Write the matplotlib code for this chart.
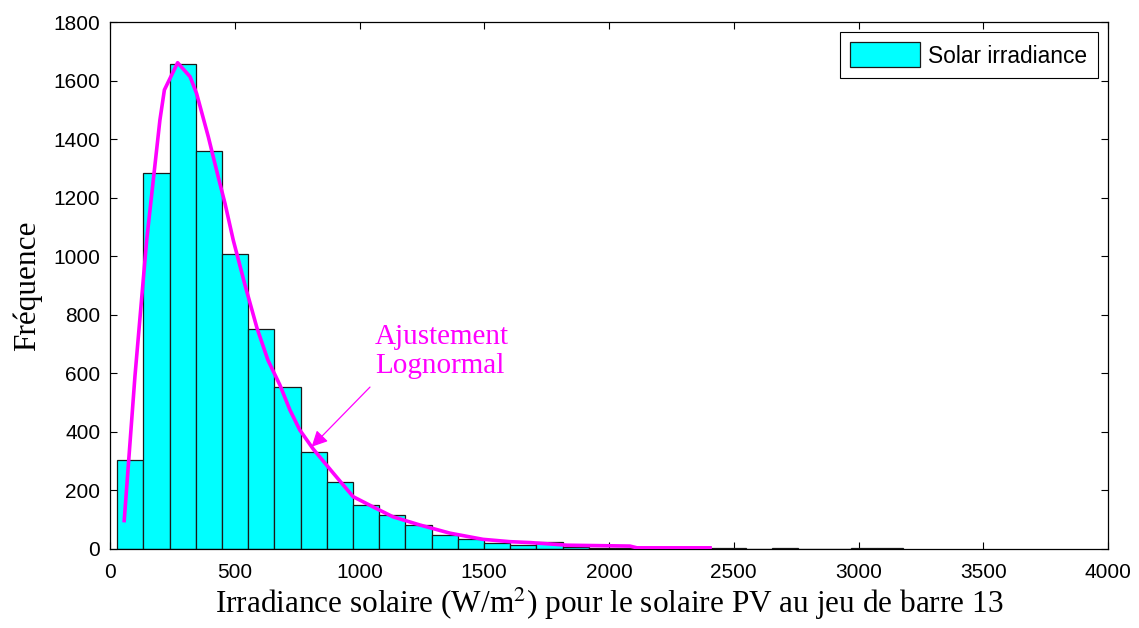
import matplotlib
matplotlib.use('Agg')
import matplotlib.pyplot as plt
import numpy as np

# histogram: 30 bins of width 105 starting at 29 W/m2
bin_start = 29
bin_width = 105
counts = [305, 1285, 1655, 1360, 1008, 752, 553, 333, 230, 150,
          115, 83, 48, 34, 21, 15, 25, 8, 5, 3,
          2, 2, 2, 2, 0, 2, 0, 0, 2, 2]

# lognormal fit curve
fit_x = [57, 100, 147, 200, 218, 271, 321, 347, 394, 434, 461, 494, 541, 589,
         633, 681, 721, 761, 814, 894, 974, 1054, 1134, 1242, 1363, 1495, 1603,
         1683, 1832, 2084, 2112, 2405]
fit_y = [97, 590, 1055, 1465, 1568, 1661, 1613, 1556, 1408, 1270, 1180, 1055,
         902, 755, 645, 560, 475, 406, 342, 260, 179, 144, 110, 82, 54, 33, 25,
         22, 13, 10, 4, 4]

xticks = [0, 500, 1000, 1500, 2000, 2500, 3000, 3500, 4000]
yticks = [0, 200, 400, 600, 800, 1000, 1200, 1400, 1600, 1800]

plt.rcParams['font.family'] = ['Liberation Sans', 'DejaVu Sans']
plt.rcParams['mathtext.fontset'] = 'stix'

fig = plt.figure(figsize=(11.39, 6.28), dpi=100)
ax = fig.add_axes([110 / 1139, 1 - 549 / 628, 998 / 1139, 527 / 628])

edges = bin_start + bin_width * np.arange(len(counts))
ax.bar(edges, counts, width=bin_width, align='edge', color='#00ffff',
       edgecolor='#1a1a1a', linewidth=0.9, label='Solar irradiance', zorder=2)
ax.plot(fit_x, fit_y, color='#ff00ff', linewidth=2.6, zorder=3)

# label and arrow pointing at the fitted curve
ax.text(1062, 768, 'Ajustement\nLognormal', fontsize=21, color='#ff00ff',
        family='Liberation Serif', ha='left', va='top', linespacing=1.12,
        zorder=4)
ax.annotate('', xy=(808, 349), xytext=(1042, 553),
            arrowprops=dict(arrowstyle='-|>', color='#ff00ff', lw=0.9,
                            mutation_scale=24, shrinkA=0, shrinkB=0),
            zorder=4)

ax.set_xlim(0, 4000)
ax.set_ylim(0, 1800)
ax.set_xticks(xticks)
ax.set_yticks(yticks)
ax.tick_params(direction='in', top=True, right=True, length=5, width=0.8,
               labelsize=15)
ax.tick_params(axis='x', pad=10)
ax.tick_params(axis='y', pad=7)
for s in ax.spines.values():
    s.set_linewidth(0.9)
    s.set_color('black')

ax.set_xlabel('Irradiance solaire (W/m$^{2}$) pour le solaire PV au jeu de barre 13',
              family='Liberation Serif', fontsize=22.5, labelpad=3)
ax.set_ylabel('Fréquence', family='Liberation Serif', fontsize=22.5, labelpad=8)

leg = ax.legend(loc='upper right', fontsize=16.4, fancybox=False,
                edgecolor='black', framealpha=1, handlelength=3.1,
                handleheight=1.3, borderpad=0.45, borderaxespad=0.45,
                handletextpad=0.35)
leg.get_frame().set_linewidth(0.8)

fig.savefig('out.png', dpi=100)
